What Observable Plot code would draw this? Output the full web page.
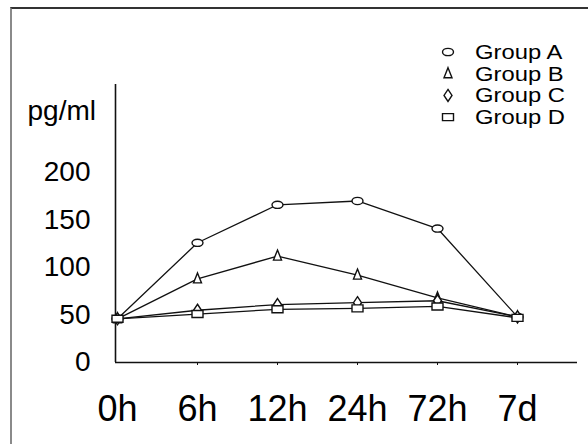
<!DOCTYPE html>
<html><head><meta charset="utf-8">
<script src="https://cdn.jsdelivr.net/npm/d3@7"></script>
<script src="https://cdn.jsdelivr.net/npm/@observablehq/plot@0.6"></script>
<style>
body{margin:0;background:#fff}
#chart{position:relative;width:588px;height:444px;overflow:hidden}
#border{position:absolute;left:10px;top:7px;width:578px;height:437px;border-left:2px solid #8a8a8a;border-top:2px solid #333;box-sizing:border-box;pointer-events:none}
svg{font-family:"Liberation Sans",Arial,sans-serif}
</style>
</head><body><div id="chart"><div id="border"></div></div>
<script>
const timepoints = ["0h","6h","12h","24h","72h","7d"];
const groups = ["Group A","Group B","Group C","Group D"];
const groupA = [46,126,166,170,141,48];
const groupB = [46,88,112,92,68,48];
const groupC = [46,55,61,63,65,48];
const groupD = [46,51,56,57,59,47];
const yTicks = [0,50,100,150,200];
const yLabel = "pg/ml";

// marker shapes
const ellipseSym = {draw(c){const rx=5.5, ry=3.6, k=0.5523;
  c.moveTo(rx,0);
  c.bezierCurveTo(rx,ry*k,rx*k,ry,0,ry);
  c.bezierCurveTo(-rx*k,ry,-rx,ry*k,-rx,0);
  c.bezierCurveTo(-rx,-ry*k,-rx*k,-ry,0,-ry);
  c.bezierCurveTo(rx*k,-ry,rx,-ry*k,rx,0);
  c.closePath();}};
const triSym = {draw(c){c.moveTo(0,-6);c.lineTo(2,-1);c.lineTo(4,4);c.lineTo(-4,4);c.lineTo(-2,-1);c.closePath();}};
const diamondSym = {draw(c){c.moveTo(0,-6);c.lineTo(4,0);c.lineTo(0,6);c.lineTo(-4,0);c.closePath();}};
const rectSym = {draw(c){c.rect(-5.5,-3.5,11,7);}};
const symbols = [ellipseSym, triSym, diamondSym, rectSym];

const series = [groupA, groupB, groupC, groupD];
const rows = [];
groups.forEach((g,gi)=>timepoints.forEach((t,i)=>rows.push({group:g, gi, t, i, v:series[gi][i]})));

const ink = "#111";
const plot = Plot.plot({
  width:588, height:444,
  marginLeft:115, marginRight:11, marginTop:84, marginBottom:82,
  style:{fontFamily:"Liberation Sans, Arial, sans-serif", color:ink, background:"transparent"},
  x:{domain:[-0.025,5.75], axis:null},
  y:{domain:[0,292.6], axis:null},
  marks:[
    Plot.ruleY([0],{stroke:ink, strokeWidth:1.6}),
    Plot.ruleX([-0.025],{stroke:ink, strokeWidth:1.6}),
    Plot.axisX({ticks:d3.range(1,timepoints.length), tickSize:3, tickPadding:0, tickFormat:()=>"", stroke:ink, label:null}),
    Plot.axisX({ticks:d3.range(timepoints.length), tickSize:0, tickPadding:33, tickFormat:i=>timepoints[i], fontSize:36, fill:"#000", label:null}),
    Plot.axisY({ticks:yTicks, tickSize:0, tickPadding:25, fontSize:28, fill:"#000", label:null}),
    Plot.text([yLabel],{frameAnchor:"top-left", dx:-88, dy:16, textAnchor:"start", fontSize:28, fill:"#000"}),
    Plot.line(rows,{x:"i", y:"v", z:"group", stroke:ink, strokeWidth:1.3}),
    ...groups.map((g,gi)=>Plot.dot(rows.filter(d=>d.gi===gi),{x:"i", y:"v", symbol:symbols[gi], r:4, stroke:ink, fill:"white", strokeWidth:1.4}))
  ]
});
document.getElementById("chart").appendChild(plot);

// legend
const svg = d3.select(plot);
const leg = svg.append("g").attr("text-anchor","start");
groups.forEach((g,gi)=>{
  const y = 52 + gi*21.7;
  const p = d3.path(); symbols[gi].draw(p);
  leg.append("path").attr("d", p.toString()).attr("transform",`translate(448,${y})`)
    .attr("fill","white").attr("stroke",ink).attr("stroke-width",1.4);
  leg.append("text").text(g).attr("transform",`translate(475,${y}) scale(1.22,1)`)
    .attr("text-anchor","start").attr("dy","0.36em").attr("font-size",19.5).attr("fill","#000");
});
</script>
</body></html>
